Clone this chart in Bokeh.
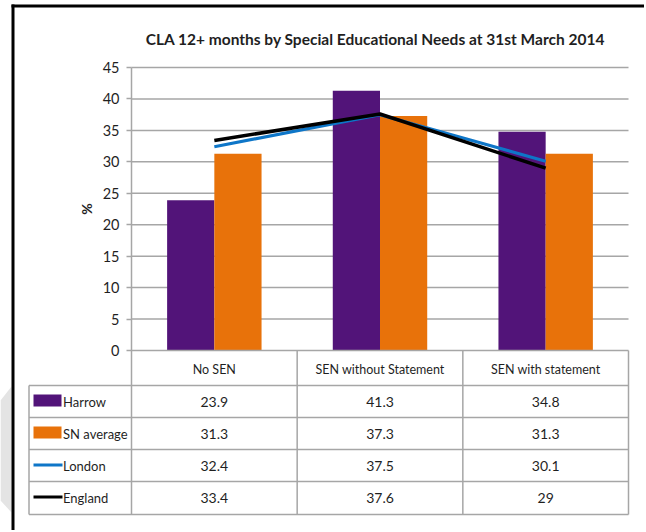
import numpy as np
from bokeh.plotting import figure
from bokeh.models import LinearAxis, FixedTicker
from bokeh.core.properties import value
from bokeh.embed import file_html
from bokeh.resources import INLINE

# ---------------- data ----------------
title_text = "CLA 12+ months by Special Educational Needs at 31st March 2014"
categories = ["No SEN", "SEN without Statement", "SEN with statement"]
harrow = [23.9, 41.3, 34.8]
sn_average = [31.3, 37.3, 31.3]
london = [32.4, 37.5, 30.1]
england = [33.4, 37.6, 29]
series_names = ["Harrow", "SN average", "London", "England"]
y_ticks = [0, 5, 10, 15, 20, 25, 30, 35, 40, 45]

# ---------------- styling / layout helpers ----------------
FONT = "Lato"
TXT = "#1f1f1f"
GRID = "#a6a6a6"
PURPLE = "#521479"
ORANGE = "#E8720A"
BLUE = "#0E76C8"
BLACK = "#000000"

OX, OY = 0, 0               # page offset of the figure
W, H = 644, 530
PPU = 283.0 / 45.0          # pixels per % unit
CW = 497.0 / 3.0            # pixels per category


def X(px):   # page x -> data x
    return (px - 131.0) / CW


def Y(py):   # page y -> data y
    return (350.0 - py) / PPU


p = figure(width=W, height=H, output_backend="svg", toolbar_location=None,
           x_range=(X(OX), X(OX + W)), y_range=(Y(OY + H), Y(OY)),
           x_axis_location=None, y_axis_location=None,
           min_border=0, min_border_left=0, min_border_right=0,
           min_border_top=0, min_border_bottom=0)
p.outline_line_color = None
p.grid.visible = False
p.background_fill_color = "white"
p.border_fill_color = "white"

ncat = len(categories)
centers = np.arange(ncat) + 0.5

# faint watermark shape at the left edge
p.patch(x=[X(0), X(11), X(11), X(0)], y=[Y(400), Y(386), Y(512), Y(500)],
        fill_color="#e4e4e4", line_color=None)

# gridlines (5..45)
grid_vals = [t for t in y_ticks if t > 0]
p.segment(x0=[0] * len(grid_vals), x1=[ncat] * len(grid_vals), y0=grid_vals, y1=grid_vals,
          line_color=GRID, line_width=1.5)

# bars
bw = 0.285
p.vbar(x=centers - bw / 2, top=harrow, width=bw, bottom=0, fill_color=PURPLE, line_color=None)
p.vbar(x=centers + bw / 2, top=sn_average, width=bw, bottom=0, fill_color=ORANGE, line_color=None)

# lines
p.line(x=centers, y=london, line_color=BLUE, line_width=3.2)
p.line(x=centers, y=england, line_color=BLACK, line_width=3.5)

# y axis at x=0, bounded through the table
yaxis = LinearAxis(fixed_location=0, bounds=(Y(514), 45),
                   ticker=FixedTicker(ticks=y_ticks))
yaxis.axis_line_color = GRID
yaxis.axis_line_width = 1.5
yaxis.major_tick_line_color = GRID
yaxis.major_tick_line_width = 1.5
yaxis.major_tick_out = 5
yaxis.major_tick_in = 0
yaxis.minor_tick_line_color = None
yaxis.major_label_text_font = FONT
yaxis.major_label_text_font_size = "14.5px"
yaxis.major_label_text_color = TXT
yaxis.major_label_standoff = 7
p.add_layout(yaxis, "left")

# x axis at y=0 (header row of the data table)
xaxis = LinearAxis(fixed_location=0, bounds=(0, ncat),
                   ticker=FixedTicker(ticks=list(centers)))
xaxis.major_label_overrides = {float(c): n for c, n in zip(centers, categories)}
xaxis.axis_line_color = GRID
xaxis.axis_line_width = 1.5
xaxis.major_tick_line_color = None
xaxis.major_tick_out = 0
xaxis.major_tick_in = 0
xaxis.minor_tick_line_color = None
xaxis.major_label_text_font = FONT
xaxis.major_label_text_font_size = "12.5px"
xaxis.major_label_text_color = TXT
xaxis.major_label_standoff = 11
p.add_layout(xaxis, "below")

# "%" axis title
p.text(x=[X(86)], y=[22.5], text=["%"], angle=np.pi / 2, text_font=value(FONT),
       text_font_style="bold", text_font_size="14px", text_color=TXT,
       text_align="center", text_baseline="middle")

# title
p.text(x=[X(375)], y=[Y(38)], text=[title_text], text_font=value(FONT),
       text_font_style="bold", text_font_size="15.5px", text_color=TXT,
       text_align="center", text_baseline="middle")

# ---------------- data table ----------------
row_edges = [Y(385), Y(417), Y(449), Y(481), Y(514)]
left_edge = X(28.5)
# horizontal table lines
p.segment(x0=[left_edge] * len(row_edges), x1=[ncat] * len(row_edges),
          y0=row_edges, y1=row_edges, line_color=GRID, line_width=1.5)
# vertical lines
vx = [left_edge] + [float(i) for i in range(1, ncat + 1)]
vtop = [row_edges[0]] + [0.0] * ncat
p.segment(x0=vx, x1=vx, y0=vtop, y1=[row_edges[-1]] * len(vx),
          line_color=GRID, line_width=1.5)

row_centers = [(row_edges[i] + row_edges[i + 1]) / 2 for i in range(4)]
all_series = [harrow, sn_average, london, england]
tx, ty, tt = [], [], []
for r, s in enumerate(all_series):
    for c, v in enumerate(s):
        tx.append(centers[c])
        ty.append(row_centers[r])
        tt.append(f"{v:g}")
p.text(x=tx, y=ty, text=tt, text_font=value(FONT), text_font_size="14px",
       text_color=TXT, text_align="center", text_baseline="middle")

# legend keys
sw_l, sw_r = X(33), X(61)
p.quad(left=[sw_l, sw_l], right=[sw_r, sw_r],
       top=[row_centers[0] + 7 / PPU, row_centers[1] + 7 / PPU],
       bottom=[row_centers[0] - 5 / PPU, row_centers[1] - 5 / PPU],
       fill_color=[PURPLE, ORANGE], line_color=None)
p.segment(x0=[sw_l, sw_l], x1=[X(62), X(62)],
          y0=[row_centers[2] + 0.5 / PPU, row_centers[3] + 1 / PPU],
          y1=[row_centers[2] + 0.5 / PPU, row_centers[3] + 1 / PPU],
          line_color=[BLUE, BLACK], line_width=3)
p.text(x=[X(62.5)] * 4, y=row_centers, text=series_names, text_font=value(FONT),
       text_font_size="13px", text_color=TXT, text_align="left", text_baseline="middle")

# outer black frame lines (left and top)
p.segment(x0=[X(12.5), X(11)], x1=[X(12.5), X(646)],
          y0=[Y(4), Y(5.5)], y1=[Y(532), Y(5.5)],
          line_color="black", line_width=3)

open("out.html", "w").write(file_html(p, INLINE))
